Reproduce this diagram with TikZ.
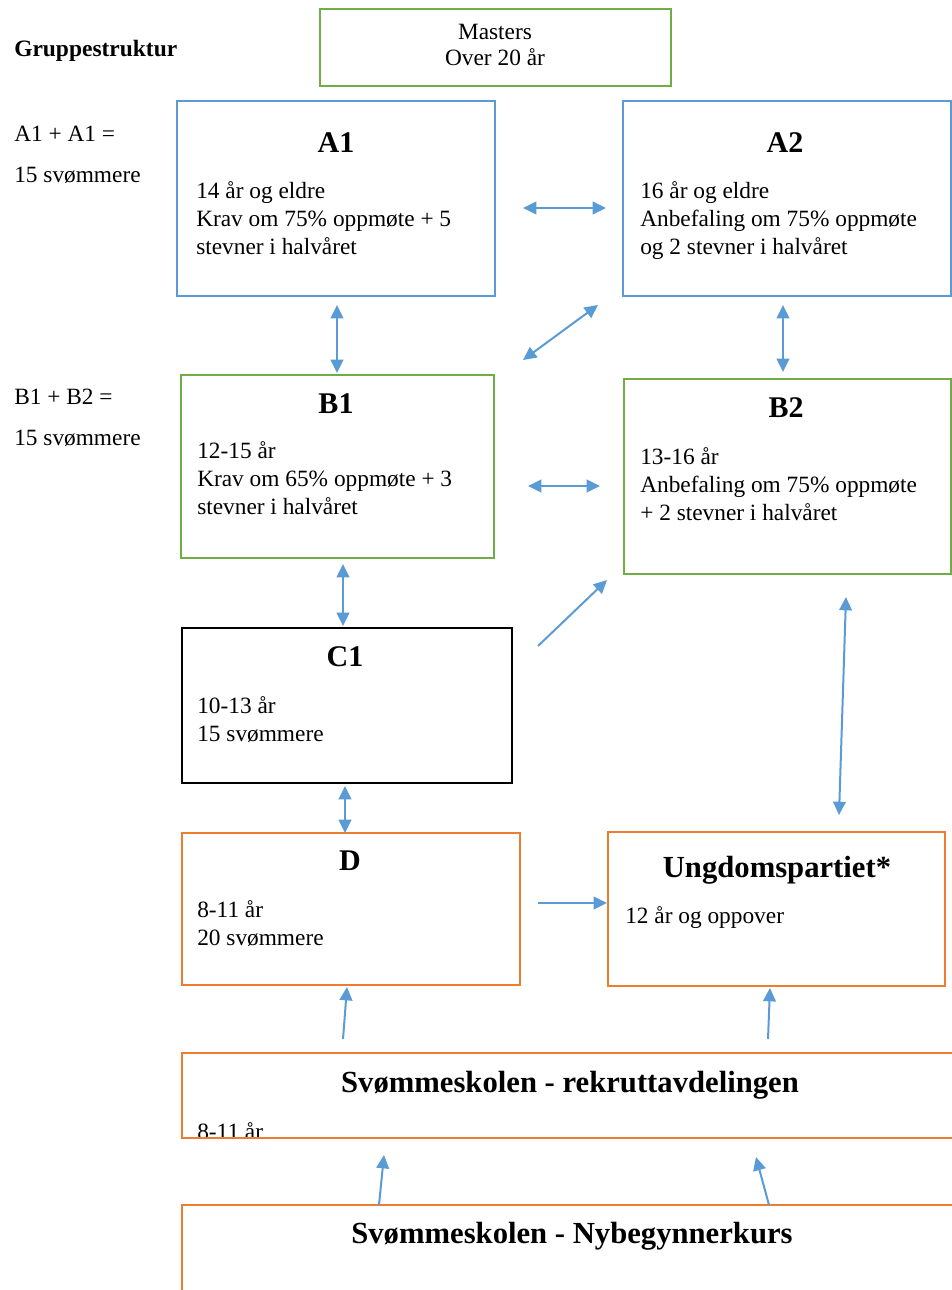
\documentclass[tikz,border=0pt]{standalone}
\usepackage{fontspec}
\setmainfont{Liberation Serif}
\usetikzlibrary{arrows.meta,fit}
\definecolor{boxblue}{HTML}{5B9BD5}
\definecolor{boxgreen}{HTML}{70AD47}
\definecolor{boxorange}{HTML}{ED7D31}
\definecolor{arrowblue}{HTML}{5B9BD5}
\tikzset{
  grpbox/.style={draw, line width=1.1pt, inner sep=0pt},
  bluebox/.style={grpbox, draw=boxblue},
  greenbox/.style={grpbox, draw=boxgreen},
  orangebox/.style={grpbox, draw=boxorange},
  blackbox/.style={grpbox, draw=black},
  bodytxt/.style={inner sep=0pt, anchor=north west, align=left, font=\fontsize{17.5}{21}\selectfont},
  plaintxt/.style={inner sep=0pt, anchor=base west, font=\fontsize{17.5}{21}\selectfont},
  headtxt/.style={inner sep=0pt, font=\fontsize{22.5}{26}\selectfont\bfseries},
  bighead/.style={inner sep=0pt, anchor=base, font=\fontsize{23}{27}\selectfont\bfseries},
  tipA/.tip={Triangle[length=10pt,width=9.5pt]},
  dbl/.style={draw=arrowblue, line width=1.5pt, tipA-tipA},
  sgl/.style={draw=arrowblue, line width=1.5pt, -tipA},
}
\begin{document}
\begin{tikzpicture}[x=0.75pt,y=-0.75pt]
\useasboundingbox (0,0) rectangle (952,1290);
\clip (0,0) rectangle (952,1290);

% left labels
\node[plaintxt, font=\fontsize{17.6}{21}\selectfont\bfseries] (gs) at (14,56) {Gruppestruktur};
\node[plaintxt] (la1) at (14,141) {A1 + A1 =};
\node[plaintxt] (la2) at (14,182) {15 svømmere};
\node[plaintxt] (lb1) at (14,404) {B1 + B2 =};
\node[plaintxt] (lb2) at (14,445) {15 svømmere};

% Masters
\node[greenbox, fit={(320,9) (671,86)}] (masters) {};
\node[inner sep=0pt, anchor=north, align=center, font=\fontsize{17.5}{19.5}\selectfont] (masterst) at (495,24) {Masters\\Over 20 år};

% A1
\node[bluebox, fit={(177,101) (495,296)}] (A1) {};
\node[headtxt] (A1h) at (336,143) {A1};
\node[bodytxt] (A1b) at (196,181) {14 år og eldre\\Krav om 75\% oppmøte + 5\\stevner i halvåret};

% A2
\node[bluebox, fit={(623,101) (951,296)}] (A2) {};
\node[headtxt] (A2h) at (785,143) {A2};
\node[bodytxt] (A2b) at (640,181) {16 år og eldre\\Anbefaling om 75\% oppmøte\\og 2 stevner i halvåret};

% B1
\node[greenbox, fit={(181,375) (494,558)}] (B1) {};
\node[headtxt] (B1h) at (336,404) {B1};
\node[bodytxt] (B1b) at (197,441) {12-15 år\\Krav om 65\% oppmøte + 3\\stevner i halvåret};

% B2
\node[greenbox, fit={(624,379) (951,574)}] (B2) {};
\node[headtxt] (B2h) at (786,408) {B2};
\node[bodytxt] (B2b) at (640,447) {13-16 år\\Anbefaling om 75\% oppmøte\\+ 2 stevner i halvåret};

% C1
\node[blackbox, fit={(182,628) (512,783)}] (C1) {};
\node[headtxt] (C1h) at (345,657) {C1};
\node[bodytxt] (C1b) at (197,696) {10-13 år\\15 svømmere};

% D
\node[orangebox, fit={(182,833) (520,985)}] (D) {};
\node[headtxt] (Dh) at (350,861) {D};
\node[bodytxt] (Db) at (197,900) {8-11 år\\20 svømmere};

% Ungdomspartiet
\node[orangebox, fit={(608,832) (945,986)}] (U) {};
\node[bighead] (Uh) at (777,877) {Ungdomspartiet*};
\node[bodytxt] (Ub) at (625,906) {12 år og oppover};

% Svømmeskolen - rekruttavdelingen
\begin{scope}
\clip (182,1053) rectangle (960,1136);
\node[bodytxt] (Rb) at (197,1122) {8-11 år};
\end{scope}
\node[orangebox, fit={(182,1053) (962,1138)}] (R) {};
\node[bighead] (Rh) at (570,1092) {Svømmeskolen - rekruttavdelingen};

% Svømmeskolen - Nybegynnerkurs
\node[orangebox, fit={(182,1205) (962,1300)}] (N) {};
\node[bighead] (Nh) at (572,1243) {Svømmeskolen - Nybegynnerkurs};

% connector end points
\coordinate (a1a2l) at (523,208);  \coordinate (a1a2r) at (606,208);
\coordinate (a2b1a) at (523,360);  \coordinate (a2b1b) at (598,305);
\coordinate (a1b1a) at (337,305);  \coordinate (a1b1b) at (337,373);
\coordinate (a2b2a) at (783,305);  \coordinate (a2b2b) at (783,372);
\coordinate (b1b2l) at (528,486);  \coordinate (b1b2r) at (600,486);
\coordinate (b1c1a) at (343,564);  \coordinate (b1c1b) at (343,626);
\coordinate (c1b2a) at (538,646);  \coordinate (c1b2b) at (607,580);
\coordinate (c1da)  at (345,786);  \coordinate (c1db)  at (345,833);
\coordinate (b2ua)  at (846,597);  \coordinate (b2ub)  at (839,815);
\coordinate (dua)   at (538,903);  \coordinate (dub)   at (607,903);
\coordinate (rda)   at (343,1039); \coordinate (rdb)   at (347,987);
\coordinate (rua)   at (768,1039); \coordinate (rub)   at (770,988);
\coordinate (nra)   at (379,1205); \coordinate (nrb)   at (384,1155);
\coordinate (nrc)   at (769,1205); \coordinate (nrd)   at (756,1157);

\draw[dbl] (a1a2l) -- (a1a2r);
\draw[dbl] (a2b1a) -- (a2b1b);
\draw[dbl] (a1b1a) -- (a1b1b);
\draw[dbl] (a2b2a) -- (a2b2b);
\draw[dbl] (b1b2l) -- (b1b2r);
\draw[dbl] (b1c1a) -- (b1c1b);
\draw[sgl] (c1b2a) -- (c1b2b);
\draw[dbl] (c1da) -- (c1db);
\draw[dbl] (b2ua) -- (b2ub);
\draw[sgl] (dua) -- (dub);
\draw[sgl] (rda) -- (rdb);
\draw[sgl] (rua) -- (rub);
\draw[sgl] (nra) -- (nrb);
\draw[sgl] (nrc) -- (nrd);
\end{tikzpicture}
\end{document}
